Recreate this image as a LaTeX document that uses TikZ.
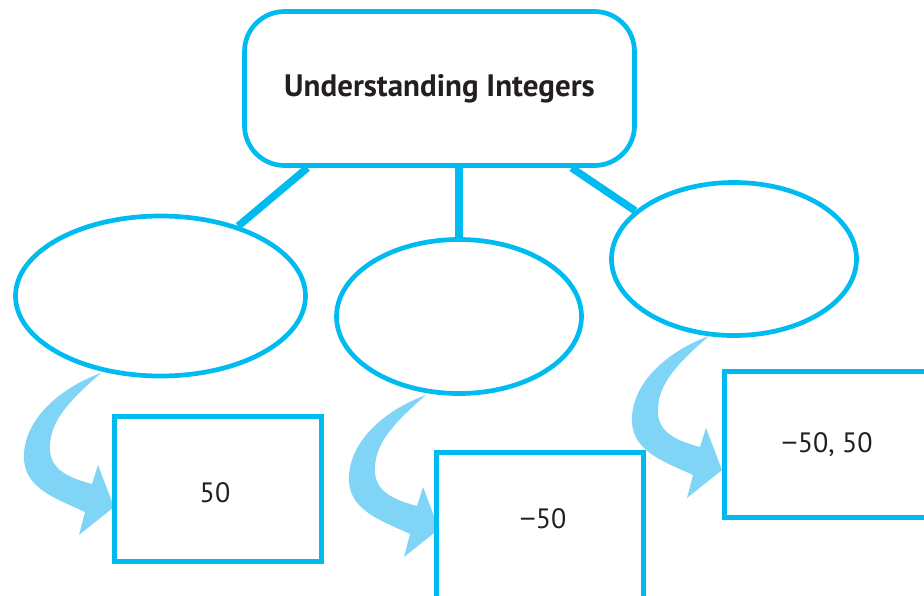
\documentclass[tikz,border=0pt]{standalone}
\usepackage{fontspec}
\setmainfont{PT Sans}
\newfontfamily\minusfont{Liberation Sans}
\usetikzlibrary{shapes.geometric,positioning}

\definecolor{mapblue}{RGB}{0,187,240}
\definecolor{arrowblue}{RGB}{128,212,245}
\definecolor{inkgray}{RGB}{35,31,32}

% bent block arrow, tail at the given point
\newcommand{\bluebend}[1]{%
  \fill[arrowblue, shift={#1}]
    (0,0) .. controls (-41,15) and (-79,47) .. (-77,87)
          .. controls (-75,117) and (-41,127) .. (-16,139)
    -- (-22,162) -- (13,134) -- (-3,92) -- (-9,111)
          .. controls (-31,105) and (-53,97) .. (-51,72)
          .. controls (-50,47) and (-31,27) .. (0,0) -- cycle;}

\begin{document}
\begin{tikzpicture}[x=1pt, y=-1pt,
    every node/.style={text=inkgray, font=\fontsize{28}{34}\selectfont},
    topic/.style={draw=mapblue, line width=4.7pt, rounded corners=40pt,
        minimum width=390pt, minimum height=154pt},
    idea/.style={ellipse, draw=mapblue, line width=4.7pt, inner sep=0pt},
    valbox/.style={draw=mapblue, line width=5pt,
        minimum width=207pt, minimum height=145.5pt},
    branch/.style={mapblue, line width=7.5pt}]

\useasboundingbox (0,0) rectangle (924,595);

% Arrows
\bluebend{(101,373)}
\bluebend{(426,395)}
\bluebend{(709,336)}

% Title & ideas
\node[  topic,
        font=\fontsize{31}{37}\selectfont\bfseries
    ] (title) at (439.5,88.5) {Understanding Integers};
\node[  idea,
        minimum width=290pt, minimum height=160pt
    ] (idea1) at (160.5,296) {};
\node[  idea,
        minimum width=245pt, minimum height=154pt
    ] (idea2) at (459,316.5) {};
\node[  idea,
        minimum width=245pt, minimum height=153pt
    ] (idea3) at (734,259) {};

% Examples
\node[valbox] (val1) at (218,488.75) {};
\node[valbox] (val2) at (539.5,525.25) {};
\node[valbox] (val3) at (828,444.25) {};
\node[xshift=-3pt, yshift=-4pt] (num1) at (val1.center) {50};
\node[xshift=3.5pt, yshift=7pt] (num2) at (val2.center) {{\minusfont −}50};
\node[xshift=-1pt] (num3) at (val3.center) {{\minusfont −}50, 50};

% Branches
\draw[branch] (title.211) -- (idea1.42);
\draw[branch] (idea2.north) -- (idea2.north |- title.south);
\draw[branch] (title.329) -- (idea3.154);
\end{tikzpicture}
\end{document}
